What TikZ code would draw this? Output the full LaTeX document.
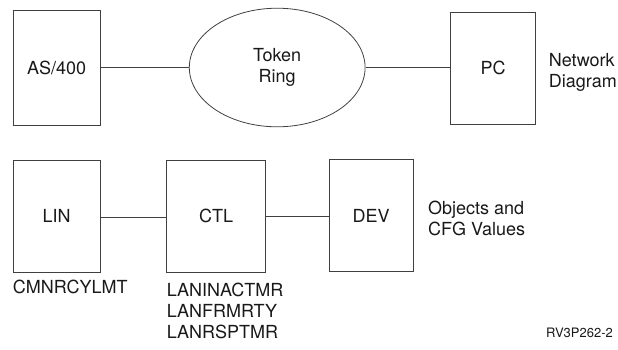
\documentclass[tikz,border=0pt]{standalone}
\usepackage{fontspec}
\setmainfont{TeX Gyre Heros}
\usetikzlibrary{shapes.geometric}
\begin{document}
\begin{tikzpicture}[x=1pt,y=-1pt,
  every node/.style={font=\fontsize{18}{21}\selectfont, inner sep=0pt, text=black!90},
  box/.style={draw=black!75, line width=0.9pt, rectangle},
  ring/.style={draw=black!75, line width=0.8pt, ellipse, align=center},
  link/.style={draw=black!75, line width=0.9pt},
  lbl/.style={align=left, anchor=west},
  small/.style={font=\fontsize{13}{15}\selectfont}]
\useasboundingbox (0,0) rectangle (618,349);
% top row
\node[box, minimum width=86.7pt, minimum height=115pt] (as400) at (56.7,67.5) {AS/400};
\node[ring, minimum width=175.8pt, minimum height=118.6pt] (tr) at (277.2,67.5) {Token\\Ring};
\node[box, minimum width=84.6pt, minimum height=112pt] (pc) at (493,68.3) {PC};
\draw[link] (as400.east |- 0,67.7) -- (tr.west |- 0,67.7);
\draw[link] (tr.east |- 0,67.7) -- (pc.west |- 0,67.7);
\node[lbl] (net) at (548.7,72.8) {Network\\Diagram};
% bottom row
\node[box, minimum width=86.7pt, minimum height=112pt] (lin) at (56.7,216) {LIN};
\node[box, minimum width=99pt, minimum height=112pt] (ctl) at (216.2,216) {CTL};
\node[box, minimum width=84.3pt, minimum height=112.2pt] (dev) at (371.2,215.6) {DEV};
\draw[link] (lin.east |- 0,217.5) -- (ctl.west |- 0,217.5);
\draw[link] (ctl.east |- 0,216.7) -- (dev.west |- 0,216.7);
\node[lbl] (obj) at (428,218.5) {Objects and\\CFG Values};
\node[lbl] (cmn) at (12.7,286.7) {CMNRCYLMT};
\node[lbl] (lan) at (166.7,310.5) {LANINACTMR\\LANFRMRTY\\LANRSPTMR};
\node[small, anchor=east] (rv) at (613,333) {RV3P262-2};
\end{tikzpicture}
\end{document}
